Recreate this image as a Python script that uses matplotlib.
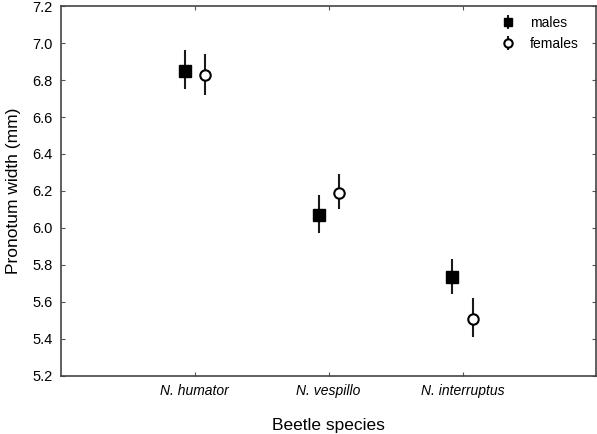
import matplotlib
matplotlib.use("Agg")
import matplotlib.pyplot as plt

plt.rcParams['font.family'] = ['Liberation Sans', 'DejaVu Sans']

species = ["N. humator", "N. vespillo", "N. interruptus"]
males_mean = [6.85, 6.07, 5.735]
males_lo = [6.75, 5.97, 5.645]
males_hi = [6.96, 6.18, 5.83]
females_mean = [6.825, 6.19, 5.51]
females_lo = [6.72, 6.10, 5.41]
females_hi = [6.94, 6.29, 5.62]

pos = [1, 2, 3]
off = 0.075

fig = plt.figure(figsize=(5.97, 4.34), dpi=100)
ax = fig.add_axes([0.102, 0.134, 0.897, 0.852])

xm = [p - off for p in pos]
xf = [p + off for p in pos]
ax.errorbar(xm, males_mean,
            yerr=[[m - l for m, l in zip(males_mean, males_lo)],
                  [h - m for m, h in zip(males_mean, males_hi)]],
            fmt='s', color='black', ms=8, elinewidth=1.5, capsize=0,
            ecolor='#1a1a1a', label='males', zorder=3)
ax.errorbar(xf, females_mean,
            yerr=[[m - l for m, l in zip(females_mean, females_lo)],
                  [h - m for m, h in zip(females_mean, females_hi)]],
            fmt='o', color='black', mfc='white', mew=1.5, ms=7.5,
            elinewidth=1.5, capsize=0, ecolor='#1a1a1a', label='females', zorder=3)

ax.set_xlim(0, 4)
ax.set_ylim(5.2, 7.2)
ax.set_xticks(pos)
ax.set_xticklabels(species, style='italic', fontsize=10)
ax.set_yticks([5.2 + 0.2 * i for i in range(11)])
ax.set_yticklabels([f"{5.2 + 0.2 * i:.1f}" for i in range(11)], fontsize=10.5)
ax.tick_params(direction='in', length=3, color='#555555', top=True, right=True, pad=6)
for s in ax.spines.values():
    s.set_color('#444444')
    s.set_linewidth(1.2)

ax.set_xlabel("Beetle species", fontsize=12.5, labelpad=14)
ax.set_ylabel("Pronotum width (mm)", fontsize=12.5, labelpad=8)

ax.legend(loc='upper right', frameon=False, fontsize=10, handletextpad=1.0,
          handlelength=1.2, borderaxespad=0.3, labelspacing=0.5, markerscale=0.8,
          bbox_to_anchor=(0.985, 1.0))

fig.savefig("out.png", dpi=100)
